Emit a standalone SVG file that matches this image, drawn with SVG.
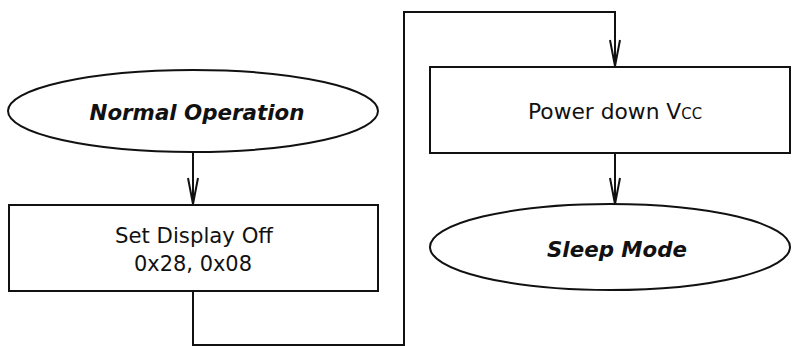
<svg xmlns="http://www.w3.org/2000/svg" width="793" height="346" viewBox="0 0 793 346">
<style>
.shape{fill:#fff;stroke:#111;stroke-width:2}
.conn{fill:none;stroke:#111;stroke-width:2}
.head{fill:none;stroke:#111;stroke-width:2;stroke-linejoin:miter}
.t{font-family:"DejaVu Sans","Liberation Sans",sans-serif;fill:#111;text-anchor:middle}
.reg{font-size:22px}
.bi{font-size:22px;font-weight:bold;font-style:italic}
</style>
<defs>
<path id="ah" class="head" d="M-5,-26 L0,0 L5,-26"/>
</defs>
<rect width="793" height="346" fill="#fff"/>
<g id="connectors">
<line class="conn" x1="193" y1="152" x2="193" y2="204"/>
<use href="#ah" x="193" y="204"/>
<polyline class="conn" points="193,291 193,345 404,345 404,12 615,12 615,66"/>
<use href="#ah" x="615" y="66"/>
<line class="conn" x1="615" y1="153" x2="615" y2="204"/>
<use href="#ah" x="615" y="204"/>
</g>
<g id="normal-operation">
<ellipse class="shape" cx="193" cy="111" rx="185" ry="41"/>
<text class="t bi" x="197" y="120" textLength="215" lengthAdjust="spacingAndGlyphs">Normal Operation</text>
</g>
<g id="set-display-off">
<rect class="shape" x="9" y="205" width="369" height="86"/>
<text class="t reg" x="194" y="243" textLength="158" lengthAdjust="spacingAndGlyphs">Set Display Off</text>
<text class="t reg" x="193" y="271" textLength="118" lengthAdjust="spacingAndGlyphs">0x28, 0x08</text>
</g>
<g id="power-down-vcc">
<rect class="shape" x="430" y="67" width="360" height="86"/>
<text class="t reg" x="615" y="119" textLength="174" lengthAdjust="spacingAndGlyphs"><tspan>Power down V</tspan><tspan font-size="15">CC</tspan></text>
</g>
<g id="sleep-mode">
<ellipse class="shape" cx="610" cy="247" rx="180" ry="43"/>
<text class="t bi" x="617" y="257" textLength="140" lengthAdjust="spacingAndGlyphs">Sleep Mode</text>
</g>
</svg>
